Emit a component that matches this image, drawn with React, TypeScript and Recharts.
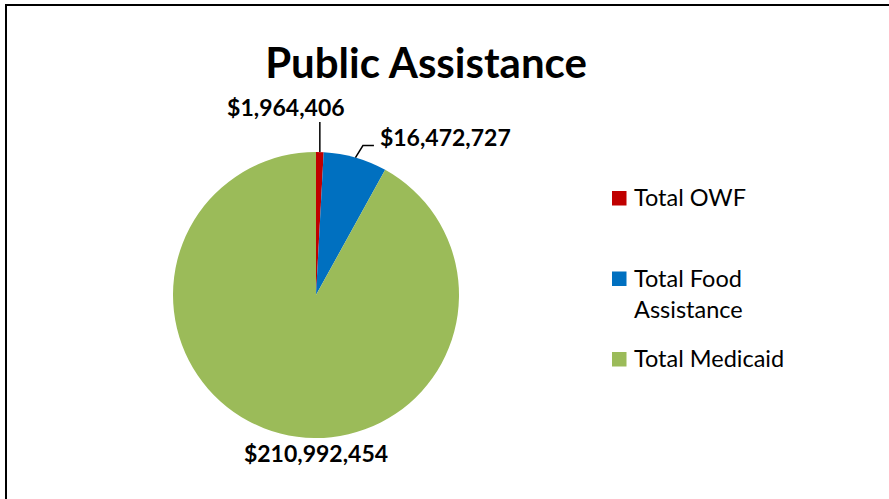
import React from 'react';
import { PieChart, Pie, Cell, Legend } from 'recharts';

const categories = ['Total OWF', 'Total Food Assistance', 'Total Medicaid'];
const amounts = [1964406, 16472727, 210992454];
const colors = ['#C00000', '#0070C0', '#9BBB59'];

const data = categories.map((name, i) => ({ name, value: amounts[i] }));

const FONT = 'Lato, "Open Sans", sans-serif';
const RAD = Math.PI / 180;

const fmt = (v: number) => '$' + v.toLocaleString('en-US');

function renderLabel(props: any) {
  const { cx, cy, midAngle, outerRadius, index, value } = props;
  const ax = cx + outerRadius * Math.cos(-midAngle * RAD);
  const ay = cy + outerRadius * Math.sin(-midAngle * RAD);
  const textStyle = { fontFamily: FONT, fontWeight: 700, fontSize: 23, fill: '#000' };

  if (index === 0) {
    return (
      <g key="lbl0">
        <line x1={ax} y1={ay} x2={ax} y2={cy - outerRadius - 30} stroke="#000" strokeWidth={1.5} />
        <text x={ax - 34} y={cy - outerRadius - 45.5} textAnchor="middle" dominantBaseline="central" style={textStyle}>
          {fmt(value)}
        </text>
      </g>
    );
  }
  if (index === 1) {
    return (
      <g key="lbl1">
        <polyline
          points={`${ax},${ay} ${ax + 7.5},${ay - 12} ${ax + 18.5},${ay - 12}`}
          fill="none"
          stroke="#000"
          strokeWidth={1.5}
        />
        <text x={ax + 24.5} y={ay - 21} textAnchor="start" dominantBaseline="central" style={textStyle}>
          {fmt(value)}
        </text>
      </g>
    );
  }
  return (
    <text key="lbl2" x={cx} y={cy + outerRadius + 14.5} textAnchor="middle" dominantBaseline="central" style={textStyle}>
      {fmt(value)}
    </text>
  );
}

function renderLegend() {
  return (
    <svg width={260} height={200} style={{ overflow: 'visible' }}>
      {categories.map((name, i) => {
        const words = name.split(' ');
        const lines = words.length > 2 ? [words.slice(0, 2).join(' '), words.slice(2).join(' ')] : [name];
        const top = 8 + i * 80.5;
        return (
          <g key={name}>
            <rect x={6} y={top} width={14.5} height={14.5} fill={colors[i]} />
            {lines.map((ln, j) => (
              <text
                key={j}
                x={28}
                y={top + 15 + j * 31.5}
                style={{ fontFamily: FONT, fontSize: 23.5, fill: '#000' }}
              >
                {ln}
              </text>
            ))}
          </g>
        );
      })}
    </svg>
  );
}

export default function App() {
  return (
    <div style={{ position: 'absolute', left: 0, top: 0, width: 889, height: 499, overflow: 'hidden', background: '#fff' }}>
      <div
        style={{
          position: 'absolute',
          left: 5,
          top: 4,
          width: 900,
          height: 600,
          borderLeft: '2px solid #000',
          borderTop: '2px solid #000',
          boxSizing: 'border-box',
        }}
      />
      <div
        style={{
          position: 'absolute',
          left: 0,
          width: 852,
          top: 37,
          textAlign: 'center',
          fontFamily: FONT,
          fontWeight: 700,
          fontSize: 42,
          lineHeight: '50px',
          color: '#000',
          whiteSpace: 'nowrap',
        }}
      >
        Public Assistance
      </div>
      <div style={{ position: 'absolute', left: 0, top: 0 }}>
        <PieChart width={889} height={499} margin={{ top: 0, right: 0, bottom: 0, left: 0 }}>
          <Pie
            data={data}
            dataKey="value"
            nameKey="name"
            cx={316}
            cy={295}
            outerRadius={143}
            startAngle={90}
            endAngle={-270}
            stroke="none"
            label={renderLabel}
            labelLine={false}
            isAnimationActive={false}
          >
            {data.map((d, i) => (
              <Cell key={d.name} fill={colors[i]} />
            ))}
          </Pie>
          <Legend
            layout="vertical"
            align="right"
            verticalAlign="top"
            content={renderLegend}
            wrapperStyle={{ left: 606, right: 'auto', top: 183, width: 260 }}
          />
        </PieChart>
      </div>
    </div>
  );
}
